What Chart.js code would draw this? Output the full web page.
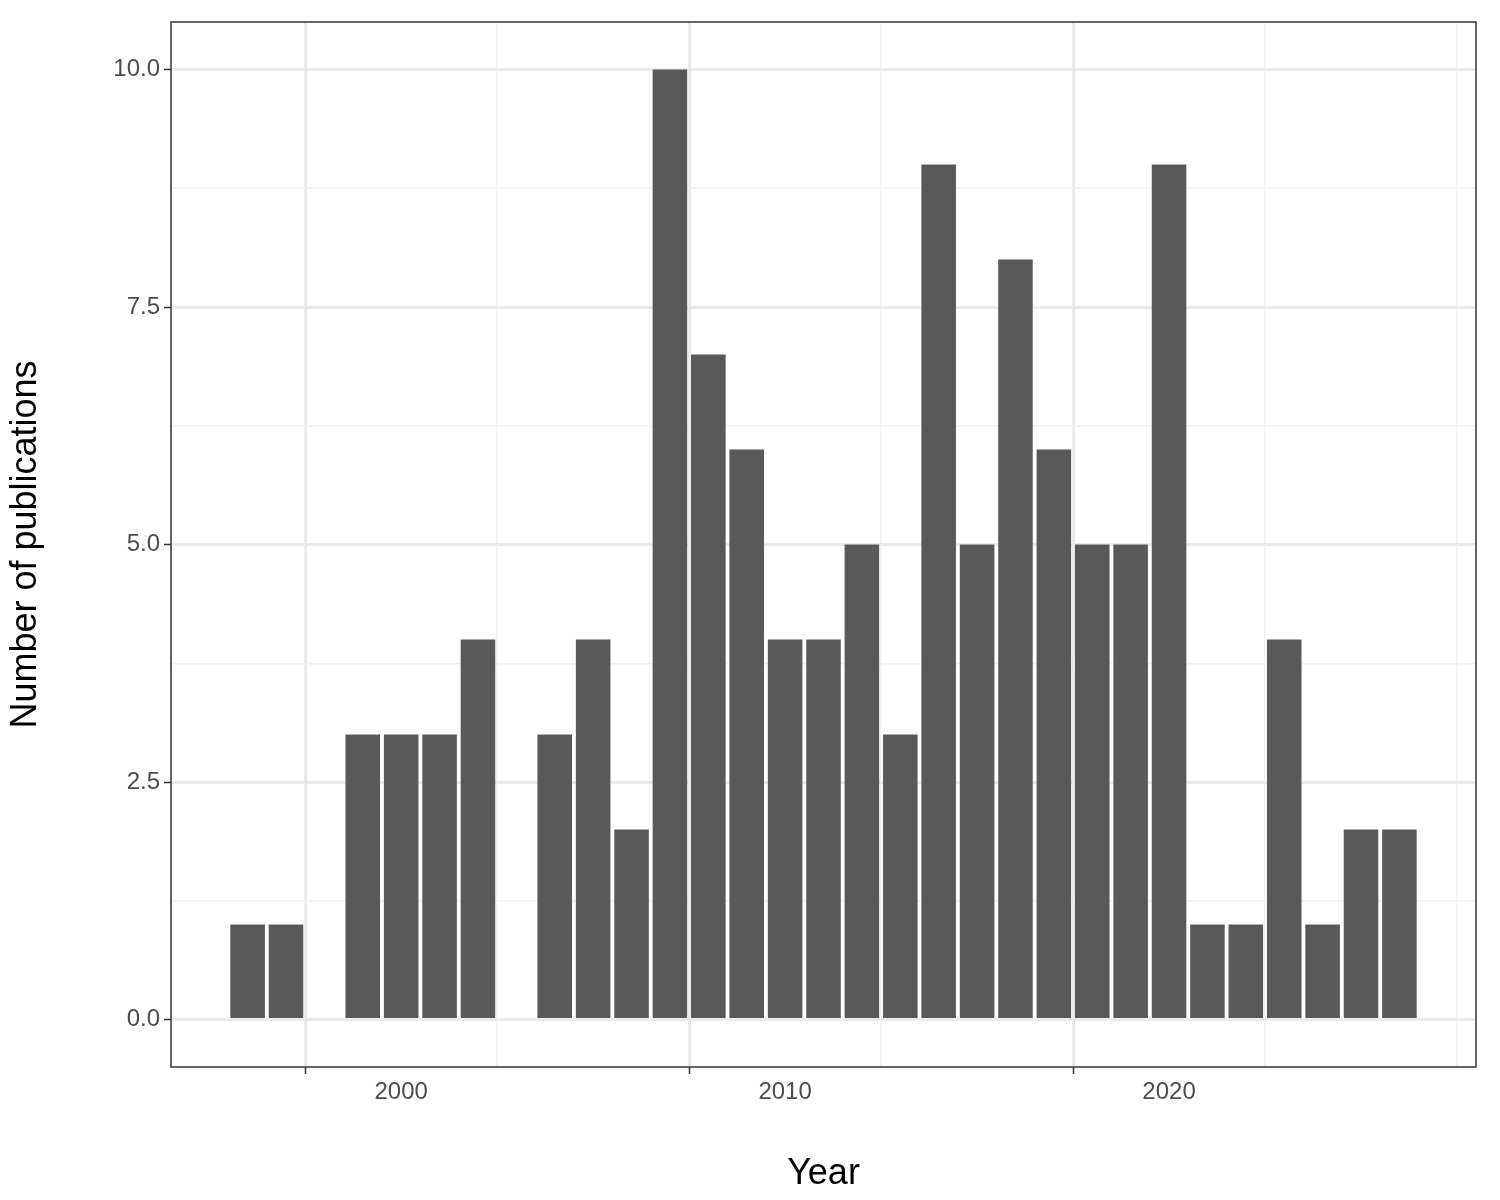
<!DOCTYPE html>
<html><head><meta charset="utf-8">
<script src="https://cdn.jsdelivr.net/npm/chart.js@4/dist/chart.umd.min.js"></script>
<style>html,body{margin:0;padding:0;background:#fff}#wrap{width:1500px;height:1200px}</style>
</head><body><div id="wrap"><canvas id="c" width="1500" height="1200"></canvas></div>
<script>
const years = [1996,1997,1998,1999,2000,2001,2002,2003,2004,2005,2006,2007,2008,2009,2010,2011,2012,2013,2014,2015,2016,2017,2018,2019,2020,2021,2022,2023,2024,2025,2026];
const counts = [1,1,0,3,3,3,4,0,3,4,2,10,7,6,4,4,5,3,9,5,8,6,5,5,9,1,1,4,1,2,2];
const xTitle = "Year";
const yTitle = "Number of publications";

const data = years.map((y,i)=>({x:y,y:counts[i]})).filter(d=>d.y>0);
const border = {id:'border',afterDraw(ch){const a=ch.chartArea,c=ch.ctx;c.save();c.strokeStyle='#333';c.lineWidth=1.5;c.strokeRect(a.left,a.top,a.right-a.left,a.bottom-a.top);c.restore();}};
const font = {family:'Liberation Sans, Arial, sans-serif'};
new Chart(document.getElementById('c'),{
  type:'bar',
  data:{datasets:[{data:data,backgroundColor:'#595959',barPercentage:0.9,categoryPercentage:1}]},
  options:{responsive:false,animation:false,
    layout:{padding:{top:22,right:24,left:0,bottom:0}},
    plugins:{legend:{display:false},tooltip:{enabled:false}},
    scales:{
      x:{type:'linear',min:1994.005,max:2027.995,offset:false,
        afterFit(s){s.height=133;},
        ticks:{stepSize:5,includeBounds:false,autoSkip:false,maxRotation:0,color:'#4d4d4d',font:{...font,size:24},padding:4,
          callback:v=>(v%10===0?String(v):'')},
        grid:{color:c=>c.tick&&c.tick.value%10===0?'#ebebeb':'#f2f2f2',lineWidth:c=>c.tick&&c.tick.value%10===0?3:1.5,
          drawTicks:true,tickLength:7,tickColor:c=>c.tick&&c.tick.value%10===0?'#333':'rgba(0,0,0,0)',tickWidth:1.5},
        border:{display:false},
        title:{display:true,text:xTitle,color:'#000',font:{...font,size:36},padding:{top:2}}},
      y:{min:-0.5,max:10.5,
        afterFit(s){s.width=171;},
        ticks:{stepSize:1.25,includeBounds:false,autoSkip:false,color:'#4d4d4d',font:{...font,size:24},padding:4,
          callback:v=>(Math.abs(v/2.5-Math.round(v/2.5))<1e-6?v.toFixed(1):'')},
        grid:{color:c=>c.tick&&Math.abs(c.tick.value/2.5-Math.round(c.tick.value/2.5))<1e-6?'#ebebeb':'#f2f2f2',
          lineWidth:c=>c.tick&&Math.abs(c.tick.value/2.5-Math.round(c.tick.value/2.5))<1e-6?3:1.5,
          tickLength:7,tickColor:c=>c.tick&&Math.abs(c.tick.value/2.5-Math.round(c.tick.value/2.5))<1e-6?'#333':'rgba(0,0,0,0)',tickWidth:1.5},
        border:{display:false},
        title:{display:true,text:yTitle,color:'#000',font:{...font,size:36},padding:{bottom:14}}}
    }},
  plugins:[border]
});
</script></body></html>
